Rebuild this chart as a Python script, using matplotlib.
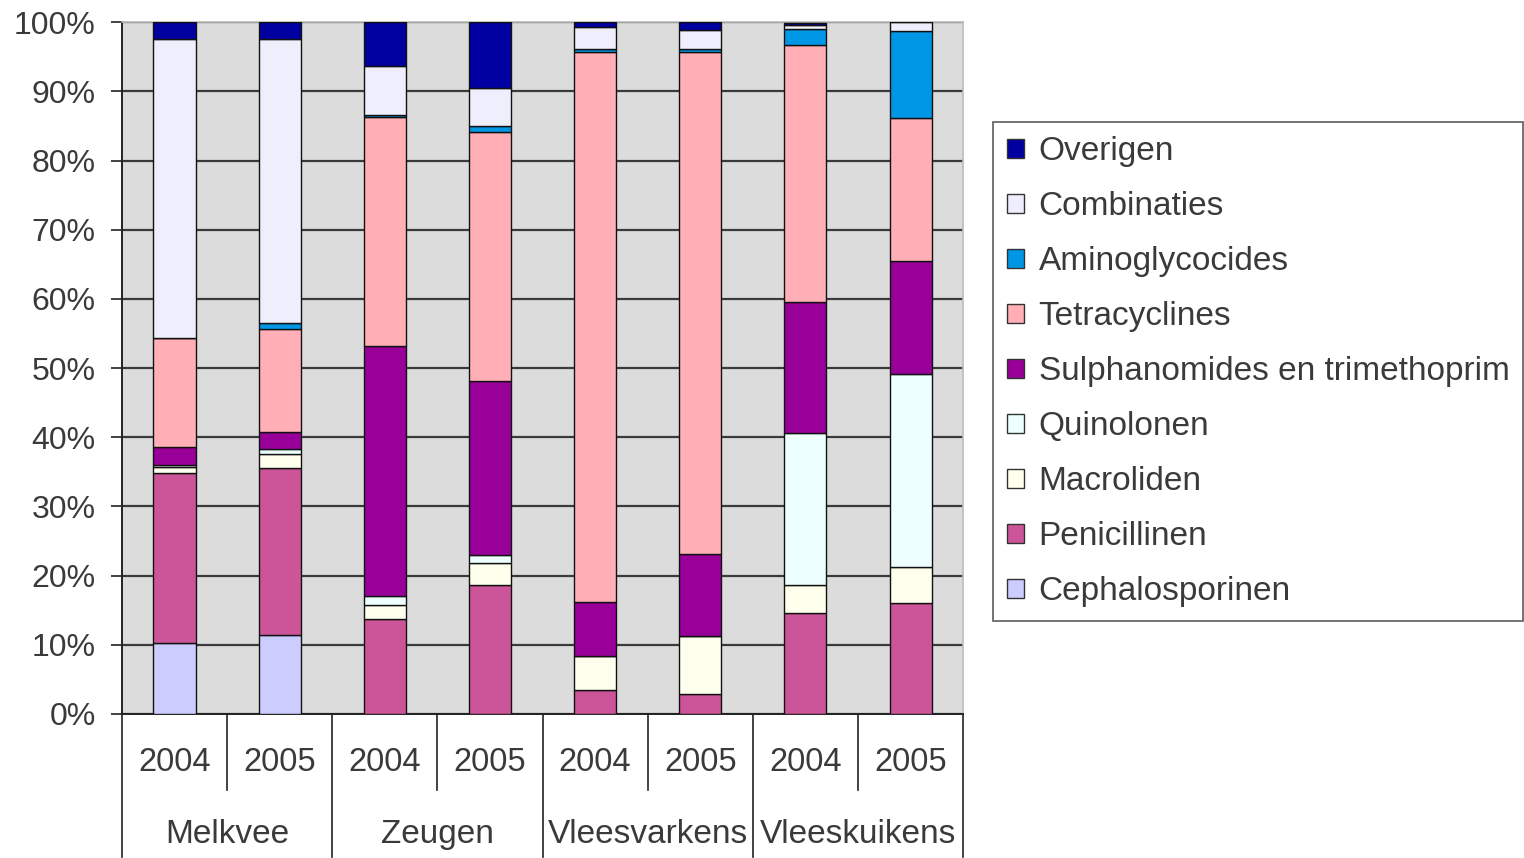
import matplotlib
matplotlib.use("Agg")
import matplotlib.pyplot as plt
import numpy as np
from matplotlib.patches import Patch
import matplotlib.transforms as mtransforms

plt.rcParams['font.family'] = ['Liberation Sans', 'DejaVu Sans']

groups = ["Melkvee", "Zeugen", "Vleesvarkens", "Vleeskuikens"]
years = ["2004", "2005"]

# percentage share per class, bars in order: Melkvee 04/05, Zeugen 04/05,
# Vleesvarkens 04/05, Vleeskuikens 04/05 (stacked bottom to top)
cephalosporinen = [10.3, 11.4, 0.0, 0.0, 0.0, 0.0, 0.0, 0.0]
penicillinen    = [24.6, 24.2, 13.7, 18.6, 3.5, 2.9, 14.6, 16.1]
macroliden      = [0.8, 2.0, 2.1, 3.2, 4.9, 8.3, 4.1, 5.2]
quinolonen      = [0.3, 0.7, 1.2, 1.2, 0.0, 0.0, 21.9, 27.8]
sulphanomides   = [2.6, 2.4, 36.2, 25.2, 7.8, 11.9, 18.9, 16.4]
tetracyclines   = [15.8, 15.0, 33.1, 36.0, 79.5, 72.6, 37.2, 20.7]
aminoglycocides = [0.0, 0.8, 0.3, 0.8, 0.4, 0.4, 2.4, 12.6]
combinaties     = [43.2, 41.1, 7.1, 5.5, 3.2, 2.8, 0.5, 1.2]
overigen        = [2.4, 2.4, 6.3, 9.5, 0.8, 1.1, 0.3, 0.0]

series = [
    ("Cephalosporinen", cephalosporinen, "#CCCCFF"),
    ("Penicillinen", penicillinen, "#CC5599"),
    ("Macroliden", macroliden, "#FFFFEE"),
    ("Quinolonen", quinolonen, "#EEFFFF"),
    ("Sulphanomides en trimethoprim", sulphanomides, "#990099"),
    ("Tetracyclines", tetracyclines, "#FFAFB5"),
    ("Aminoglycocides", aminoglycocides, "#0096E6"),
    ("Combinaties", combinaties, "#EEEEFC"),
    ("Overigen", overigen, "#0000A0"),
]

text_col = "#3A3A3A"

fig = plt.figure(figsize=(15.24, 8.58), dpi=100)
ax = fig.add_axes([0.080, 0.168, 0.552, 0.806])
ax.set_facecolor("#DCDCDC")

n = len(groups) * len(years)
x = np.arange(n)
bottom = np.zeros(n)
for name, vals, col in series:
    v = np.array(vals, dtype=float)
    ax.bar(x, v, width=0.4, bottom=bottom, color=col, edgecolor="#111111",
           linewidth=1.0, zorder=3)
    bottom += v

ax.set_xlim(-0.5, n - 0.5)
ax.set_ylim(0, 100)
ax.set_yticks(np.arange(0, 101, 10))
ax.set_yticklabels([f"{t}%" for t in range(0, 101, 10)], fontsize=23, color=text_col)
ax.yaxis.grid(True, color="#3A3A3A", linewidth=1.6, zorder=1)
ax.set_axisbelow(True)
ax.tick_params(axis="y", length=8, width=1.2, color="#222222", pad=11)
ax.set_xticks([])
for s in ["top", "right"]:
    ax.spines[s].set_color("#BBBBBB")
    ax.spines[s].set_linewidth(1.2)
ax.spines["left"].set_color("#222222")
ax.spines["left"].set_linewidth(1.4)
ax.spines["bottom"].set_color("#222222")
ax.spines["bottom"].set_linewidth(1.4)

# two-level category axis below the bars
trans = mtransforms.blended_transform_factory(ax.transData, ax.transAxes)
for i in range(n):
    ax.text(x[i], -0.071, years[i % 2], transform=trans, ha="center", va="center",
            fontsize=23.5, color=text_col)
for g, name in enumerate(groups):
    ax.text(2 * g + 0.5, -0.174, name, transform=trans, ha="center", va="center",
            fontsize=24, color=text_col)
for b in np.arange(-0.5, n, 2):
    ax.plot([b, b], [0, -0.207], transform=trans, color="#222222", lw=1.2, clip_on=False)
for b in np.arange(0.5, n, 2):
    ax.plot([b, b], [0, -0.11], transform=trans, color="#222222", lw=1.2, clip_on=False)

handles = [Patch(facecolor=col, edgecolor="#333333", linewidth=1.0, label=name)
           for name, vals, col in series[::-1]]
leg = fig.legend(handles=handles, loc="upper left", bbox_to_anchor=(0.6515, 0.858),
                 frameon=True, fancybox=False, edgecolor="#333333", fontsize=24,
                 labelspacing=0.72, handlelength=0.5, handleheight=0.5,
                 handletextpad=0.45, borderpad=0.42, borderaxespad=0)
leg.get_frame().set_linewidth(1.2)
for t in leg.get_texts():
    t.set_color(text_col)

fig.savefig("out.png", dpi=100)
